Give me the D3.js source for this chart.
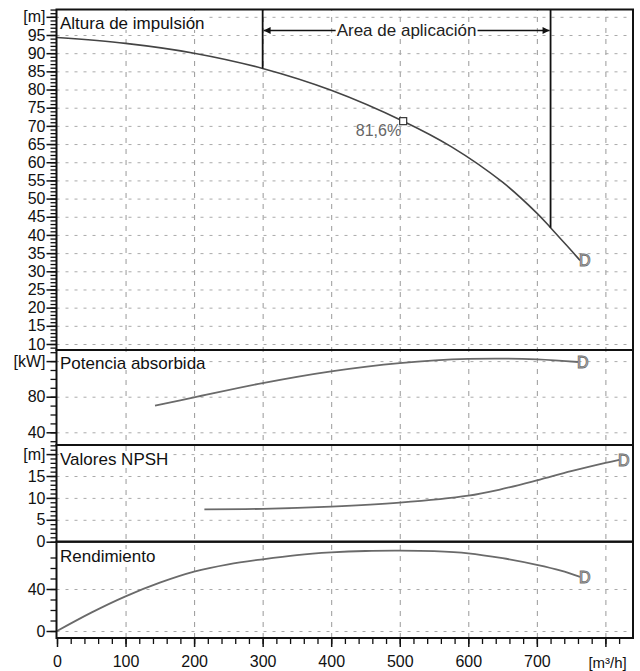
<!DOCTYPE html>
<html>
<head>
<meta charset="utf-8">
<script src="https://cdn.jsdelivr.net/npm/d3@7"></script>
<style>
body { margin: 0; background: #fff; }
text { font-family: "Liberation Sans", Arial, sans-serif; }
</style>
</head>
<body>
<div id="content"></div>
<script>
const w = 640
const h = 671

// ---- data ----
const headQ = [0, 100, 200, 300, 400, 505, 575, 650, 700, 720, 745, 763]
const headH = [94.3, 92.7, 90, 85.8, 79.8, 71.3, 64.3, 54.5, 46, 42, 36.8, 33]

const powerQ = [143, 200, 300, 400, 500, 600, 700, 760]
const powerP = [69.9, 79.2, 95.3, 108.5, 117.8, 122.5, 122, 119]

const npshQ = [215, 300, 400, 500, 600, 646, 700, 750, 800, 820]
const npshV = [7.4, 7.5, 8.0, 8.9, 10.5, 11.9, 14.0, 16.1, 18.0, 18.7]

const effQ = [0, 50, 100, 150, 200, 250, 300, 350, 400, 450, 500, 550, 600, 650, 700, 735, 763]
const effV = [0, 17.5, 33, 46, 56.5, 63.5, 68.3, 72.3, 74.8, 76.2, 76.5, 76, 74, 69.3, 63, 57.5, 51.5]

const bestQ = 505, bestH = 71.3, bestLabel = "81,6%"
const appQ = [300, 720]
const appH = [85.8, 42]
const appLabel = "Area de aplicación"

const xTicks = [0, 100, 200, 300, 400, 500, 600, 700, 800]
const xLabels = ["0", "100", "200", "300", "400", "500", "600", "700", ""]
const xUnit = "[m³/h]"

const headTicks = [10, 15, 20, 25, 30, 35, 40, 45, 50, 55, 60, 65, 70, 75, 80, 85, 90, 95, 100]
const powerTicks = [40, 80, 120]
const npshTicks = [0, 5, 10, 15, 20]
const effTicks = [0, 40]

// ---- layout ----
const left = 56.5, right = 633
const x = d3.scaleLinear().domain([0, 800]).range([57, 605.4])

const panels = [
  { title: "Altura de impulsión", top: 9.5, bottom: 350, titleY: 29,
    y: d3.scaleLinear().domain([10, 95]).range([344, 35]),
    ticks: headTicks, unit: "[m]", unitAt: 100, minor: d3.range(9, 103, 1) },
  { title: "Potencia absorbida", top: 350, bottom: 445, titleY: 369,
    y: d3.scaleLinear().domain([40, 80]).range([432.3, 396.7]),
    ticks: powerTicks, unit: "[kW]", unitAt: 120, minor: d3.range(30, 135, 10) },
  { title: "Valores NPSH", top: 445, bottom: 541.7, titleY: 465,
    y: d3.scaleLinear().domain([0, 15]).range([541.7, 476]),
    ticks: npshTicks, unit: "[m]", unitAt: 20, minor: d3.range(0, 23, 1) },
  { title: "Rendimiento", top: 541.7, bottom: 638, titleY: 562,
    y: d3.scaleLinear().domain([0, 40]).range([631, 589]),
    ticks: effTicks, unit: null, unitAt: null, minor: d3.range(0, 71, 10) }
]

let svg = d3.select("#content")
  .append("svg")
  .attr("width", w)
  .attr("height", h)

const defs = svg.append("defs")
defs.append("marker").attr("id", "arr")
  .attr("viewBox", "0 0 10 10").attr("refX", 10).attr("refY", 5)
  .attr("markerWidth", 9).attr("markerHeight", 7)
  .attr("markerUnits", "userSpaceOnUse")
  .attr("orient", "auto-start-reverse")
  .append("path").attr("d", "M0,0L10,5L0,10z").attr("fill", "#111")

// text with a white box behind it
function boxedText(px, py, str, size, color, anchor, padTop, padH) {
  const g = svg.append("g")
  const r = g.append("rect").attr("fill", "#fff")
  const t = g.append("text")
    .attr("x", px).attr("y", py)
    .attr("font-size", size).attr("fill", color)
    .attr("text-anchor", anchor)
    .text(str)
  const bb = t.node().getBBox()
  r.attr("x", bb.x - 1).attr("y", py - padTop).attr("width", bb.width + 2).attr("height", padH)
  return g
}

// vertical grid
svg.append("g")
  .attr("transform", "translate(0,638)")
  .call(d3.axisBottom(x).tickValues(xTicks.slice(1)).tickSize(-(638 - 9.5)).tickFormat(""))
  .call(g => g.select(".domain").remove())
  .call(g => g.selectAll("line").attr("stroke", "#999").attr("stroke-dasharray", "5,6"))

panels.forEach(p => {
  const inside = v => p.y(v) > p.top + 1 && p.y(v) < p.bottom - 1
  // horizontal grid
  svg.append("g")
    .attr("transform", "translate(" + left + ",0)")
    .call(d3.axisLeft(p.y).tickValues(p.ticks.filter(inside)).tickSize(-(right - left)).tickFormat(""))
    .call(g => g.select(".domain").remove())
    .call(g => g.selectAll("line").attr("stroke", "#aaa").attr("stroke-dasharray", "3,6"))
})

// titles
panels.forEach(p => {
  boxedText(60, p.titleY, p.title, 17, "#111", "start", 13, 14)
})

// curves
const line = (sc) => d3.line().x(d => x(d[0])).y(d => sc(d[1])).curve(d3.curveCatmullRom.alpha(0.5))
const curves = [
  { q: headQ, v: headH, p: panels[0], color: "#444", wd: 1.6 },
  { q: powerQ, v: powerP, p: panels[1], color: "#6a6a6a", wd: 1.8 },
  { q: npshQ, v: npshV, p: panels[2], color: "#6a6a6a", wd: 1.8 },
  { q: effQ, v: effV, p: panels[3], color: "#6a6a6a", wd: 1.8 }
]

curves.forEach(c => {
  const pts = c.q.map((q, i) => [q, c.v[i]])
  svg.append("path")
    .attr("d", line(c.p.y)(pts))
    .attr("fill", "none")
    .attr("stroke", c.color)
    .attr("stroke-width", c.wd)
  const last = pts[pts.length - 1]
  svg.append("text")
    .attr("x", x(last[0]) - 1)
    .attr("y", c.p.y(last[1]) + 6)
    .attr("font-size", 16)
    .attr("fill", "#fff")
    .attr("stroke", "#707070")
    .attr("stroke-width", 1)
    .text("D")
})

// application area
const yH = panels[0].y
appQ.forEach((q, i) => {
  svg.append("line")
    .attr("x1", x(q)).attr("x2", x(q))
    .attr("y1", 9.5).attr("y2", yH(appH[i]))
    .attr("stroke", "#111").attr("stroke-width", 1.8)
})
svg.append("line")
  .attr("x1", x(appQ[0]) + 1).attr("x2", x(appQ[1]) - 1)
  .attr("y1", 30.5).attr("y2", 30.5)
  .attr("stroke", "#111").attr("stroke-width", 1.3)
  .attr("marker-start", "url(#arr)").attr("marker-end", "url(#arr)")
boxedText((x(appQ[0]) + x(appQ[1])) / 2, 36, appLabel, 17, "#222", "middle", 12, 13)

// best efficiency point
svg.append("rect")
  .attr("x", x(bestQ) - 3.5).attr("y", yH(bestH) - 3.5)
  .attr("width", 7).attr("height", 7)
  .attr("fill", "#fff").attr("stroke", "#333").attr("stroke-width", 1.2)
svg.append("text")
  .attr("x", x(bestQ) - 2).attr("y", yH(bestH) + 15)
  .attr("text-anchor", "end").attr("font-size", 16).attr("fill", "#666")
  .text(bestLabel)

// panel frames
panels.forEach(p => {
  svg.append("rect")
    .attr("x", left).attr("y", p.top)
    .attr("width", right - left).attr("height", p.bottom - p.top)
    .attr("fill", "none").attr("stroke", "#111").attr("stroke-width", 2)
})

// y axes
panels.forEach(p => {
  const inside = v => p.y(v) >= p.top - 0.5 && p.y(v) <= p.bottom + 0.5
  svg.append("g")
    .attr("transform", "translate(" + left + ",0)")
    .call(d3.axisLeft(p.y).tickValues(p.minor.filter(inside)).tickSize(6).tickFormat(""))
    .call(g => g.select(".domain").remove())
    .call(g => g.selectAll("line").attr("stroke", "#111").attr("stroke-width", 1.3))
  svg.append("g")
    .attr("transform", "translate(" + left + ",0)")
    .call(d3.axisLeft(p.y).tickValues(p.ticks.filter(inside)).tickSize(10).tickPadding(1)
      .tickFormat(d => d === p.unitAt ? p.unit : d))
    .call(g => g.select(".domain").remove())
    .call(g => g.selectAll("line").attr("stroke", "#111").attr("stroke-width", 1.5))
    .call(g => g.selectAll("text").attr("font-size", 16).attr("fill", "#111")
      .attr("font-family", "'Liberation Sans', Arial, sans-serif"))
})

// x axis
svg.append("g")
  .attr("transform", "translate(0,638)")
  .call(d3.axisBottom(x).tickValues(d3.range(0, 821, 20)).tickSize(6).tickFormat(""))
  .call(g => g.select(".domain").remove())
  .call(g => g.selectAll("line").attr("stroke", "#111").attr("stroke-width", 1.3))
svg.append("g")
  .attr("transform", "translate(0,638)")
  .call(d3.axisBottom(x).tickValues(xTicks).tickSize(9).tickPadding(9)
    .tickFormat((d, i) => xLabels[i]))
  .call(g => g.select(".domain").remove())
  .call(g => g.selectAll("line").attr("stroke", "#111").attr("stroke-width", 1.5))
  .call(g => g.selectAll("text").attr("font-size", 16).attr("fill", "#111")
    .attr("font-family", "'Liberation Sans', Arial, sans-serif"))
svg.append("text")
  .attr("x", x(800) - 17).attr("y", 668)
  .attr("font-size", 15).attr("fill", "#111")
  .text(xUnit)
</script>
</body>
</html>
